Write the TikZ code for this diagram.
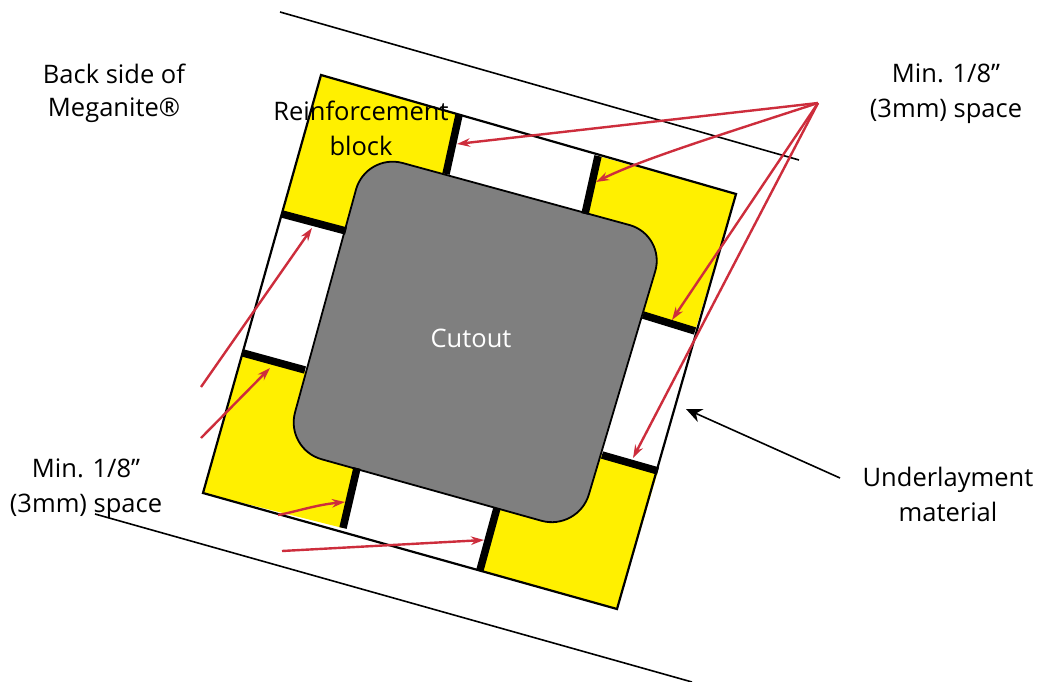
\documentclass[tikz,border=0pt]{standalone}
\usepackage{fontspec}
\setmainfont{Open Sans}
\usetikzlibrary{arrows.meta}
\definecolor{blockyellow}{RGB}{255,240,0}
\definecolor{cutgray}{RGB}{127,127,127}
\definecolor{redline}{RGB}{205,45,60}
\tikzset{
  lbl/.style={align=center,font=\fontsize{25.5}{35}\selectfont,text=black,inner sep=0pt},
  block/.style={fill=blockyellow},
  bar/.style={line width=7.5pt,black},
  redarrow/.style={draw=redline,line width=2.4pt,-{Stealth[length=13pt,width=8.5pt,fill=red!85!black]}},
  blackline/.style={draw=black,line width=1.6pt},
}
\begin{document}
\begin{tikzpicture}[x=1pt,y=-1pt]
\useasboundingbox (0,0) rectangle (1038,682);
% outer square
\coordinate (tl) at (321,75);
\coordinate (tr) at (736,194);
\coordinate (br) at (617,609);
\coordinate (bl) at (203,493);
% sharp corners of the cutout
\coordinate (ctl) at (366,153);
\coordinate (ctr) at (666,235);
\coordinate (cbr) at (578,531);
\coordinate (cbl) at (285,449);
% points inside the cutout, under its rounded corners
\coordinate (itl) at (400,190);
\coordinate (itr) at (630,250);
\coordinate (ibr) at (560,490);
\coordinate (ibl) at (320,430);
% bar ends
\coordinate (t1a) at (459,115); \coordinate (t1b) at (446,174);
\coordinate (t2a) at (598,156); \coordinate (t2b) at (585,214);
\coordinate (r1a) at (643,315); \coordinate (r1b) at (695,331);
\coordinate (r2a) at (602,455); \coordinate (r2b) at (658,471);
\coordinate (b1a) at (357,468); \coordinate (b1b) at (343,528);
\coordinate (b2a) at (497,508); \coordinate (b2b) at (480,570);
\coordinate (l1a) at (282,214); \coordinate (l1b) at (346,231);
\coordinate (l2a) at (243,353); \coordinate (l2b) at (305,370);
% square
\fill[white] (tl) -- (tr) -- (br) -- (bl) -- cycle;
% blocks
\fill[block] (tl) -- (t1a) -- (t1b) -- (itl) -- (l1b) -- (l1a) -- cycle;
\fill[block] (t2a) -- (tr) -- (r1b) -- (r1a) -- (itr) -- (t2b) -- cycle;
\fill[block] (r2b) -- (br) -- (b2b) -- (b2a) -- (ibr) -- (r2a) -- cycle;
\fill[block] (l2a) -- (l2b) -- (ibl) -- (b1a) -- (b1b) -- (bl) -- cycle;
\draw[line width=2.2pt,line join=miter] (tl) -- (tr) -- (br) -- (bl) -- cycle;
% cutout
\draw[fill=cutgray,line width=1.8pt,rounded corners=38pt] (ctl) -- (ctr) -- (cbr) -- (cbl) -- cycle;
% spacers
\foreach \a/\b in {t1a/t1b,t2a/t2b,r1a/r1b,r2a/r2b,b1a/b1b,b2a/b2b,l1a/l1b,l2a/l2b}
  \draw[bar] (\a) -- (\b);
% long lines
\coordinate (lineAa) at (280,12); \coordinate (lineAb) at (799,160);
\coordinate (lineBa) at (95,514); \coordinate (lineBb) at (692,682);
\draw[blackline] (lineAa) -- (lineAb);
\draw[blackline] (lineBa) -- (lineBb);
% red arrows
\coordinate (apex) at (818,103);
\coordinate (tipA) at (457,144);
\coordinate (tipB) at (596,182);
\coordinate (tipC) at (672,320);
\coordinate (tipD) at (633,458);
\coordinate (tipE) at (312,228); \coordinate (tailE) at (201,387);
\coordinate (tipF) at (270,368); \coordinate (tailF) at (201,438);
\coordinate (tipG) at (345,502); \coordinate (tailG) at (278,515);
\coordinate (tipH) at (484,540); \coordinate (tailH) at (282,551);
\draw[redarrow] (apex) -- (tipA);
\draw[redarrow] (apex) .. controls (720,135) and (640,160) .. (tipB);
\draw[redarrow] (apex) -- (tipC);
\draw[redarrow] (apex) -- (tipD);
\draw[redarrow] (tailE) -- (tipE);
\draw[redarrow] (tailF) -- (tipF);
\draw[redarrow] (tailG) .. controls (295,512) and (315,505) .. (tipG);
\draw[redarrow] (tailH) -- (tipH);
% underlayment arrow
\coordinate (uTail) at (840,478);
\coordinate (uTip) at (686,409);
\draw[black,line width=1.6pt,-{Stealth[length=16pt,width=14pt]}] (uTail) -- (uTip);
% labels
\node[lbl] (back) at (114,93) {Back side of\\[-2pt]Meganite®};
\node[lbl] (reinf) at (361,128) {Reinforcement\\block};
\node[lbl] (minA) at (946,94) {Min. 1/8”\\(3mm) space};
\node[lbl,text=white] (cut) at (471,338) {Cutout};
\node[lbl] (minB) at (86,489) {Min. 1/8”\\(3mm) space};
\node[lbl] (under) at (948,494) {Underlayment\\material};
\end{tikzpicture}
\end{document}
